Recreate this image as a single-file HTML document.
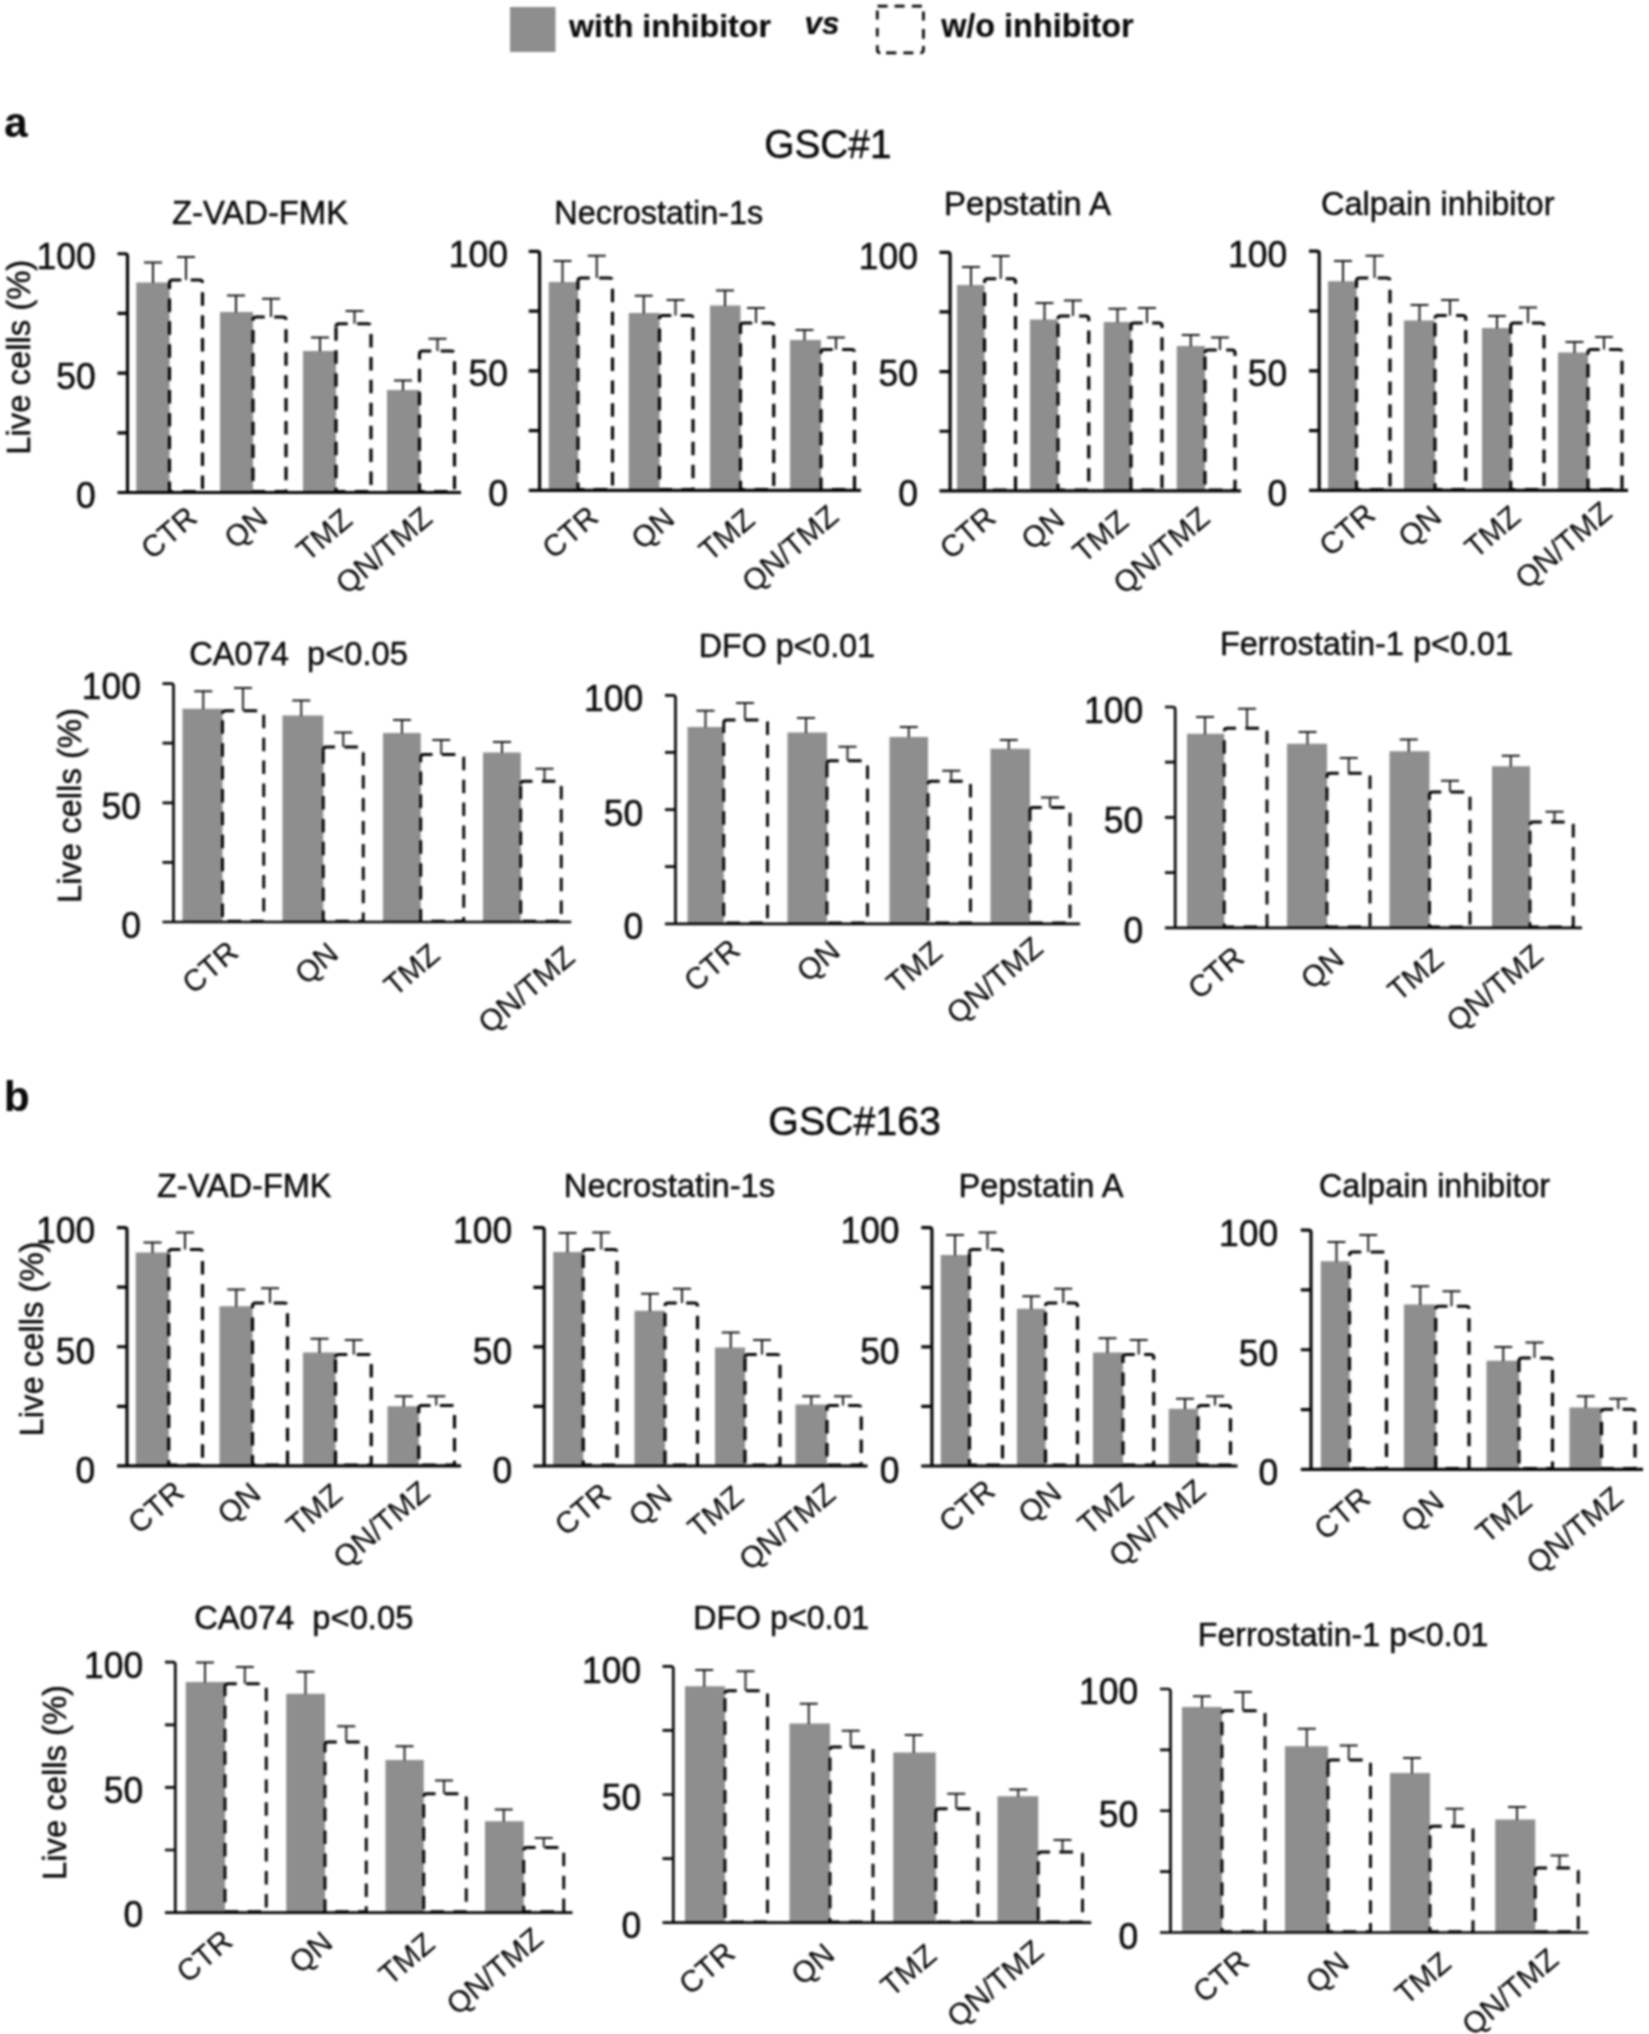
<!DOCTYPE html>
<html lang="en"><head><meta charset="utf-8"><title>Figure</title>
<style>
html,body{margin:0;padding:0;background:#fff;}
body{width:1649px;height:2034px;overflow:hidden;}
svg{display:block;filter:blur(1px);}
text{font-family:"Liberation Sans",Arial,sans-serif;stroke:#0a0a0a;stroke-width:0.45px;}
text.xl{stroke-width:0.12px;}
text[font-weight=bold]{stroke-width:0.2px;}
</style></head><body>
<svg width="1649" height="2034" viewBox="0 0 1649 2034" font-family="'Liberation Sans', Arial, sans-serif" fill="#0a0a0a">
<g id="c1">
<rect x="136.25" y="282.5" width="33.25" height="210" fill="#8e8e8e"/>
<rect x="220" y="312" width="33" height="180.5" fill="#8e8e8e"/>
<rect x="303" y="351" width="33" height="141.5" fill="#8e8e8e"/>
<rect x="387" y="390" width="32.5" height="102.5" fill="#8e8e8e"/>
<path d="M169.5 283 Q169.5 280 172.5 280 H199.5 Q202.5 280 202.5 283 V491.7 H169.5 V283" fill="none" stroke="#050505" stroke-width="3.2" stroke-dasharray="13.5 9.4"/>
<path d="M253 320 Q253 317 256 317 H283 Q286 317 286 320 V491.7 H253 V320" fill="none" stroke="#050505" stroke-width="3.2" stroke-dasharray="13.5 9.4"/>
<path d="M336 326.75 Q336 323.75 339 323.75 H368 Q371 323.75 371 326.75 V491.7 H336 V326.75" fill="none" stroke="#050505" stroke-width="3.2" stroke-dasharray="13.5 9.4"/>
<path d="M419.5 354 Q419.5 351 422.5 351 H451.5 Q454.5 351 454.5 354 V491.7 H419.5 V354" fill="none" stroke="#050505" stroke-width="3.2" stroke-dasharray="13.5 9.4"/>
<path d="M153 283 V262.5 M144 262.5 H162" fill="none" stroke="#1c1c1c" stroke-width="2"/>
<path d="M186 280 V257 M177 257 H195" fill="none" stroke="#1c1c1c" stroke-width="2"/>
<path d="M236 312.5 V295.5 M227 295.5 H245" fill="none" stroke="#1c1c1c" stroke-width="2"/>
<path d="M271 317 V298.75 M262 298.75 H280" fill="none" stroke="#1c1c1c" stroke-width="2"/>
<path d="M320 351.5 V337.5 M311 337.5 H329" fill="none" stroke="#1c1c1c" stroke-width="2"/>
<path d="M354.5 323.75 V311 M345.5 311 H363.5" fill="none" stroke="#1c1c1c" stroke-width="2"/>
<path d="M403 390.5 V380.5 M394 380.5 H412" fill="none" stroke="#1c1c1c" stroke-width="2"/>
<path d="M437.5 351 V338.75 M428.5 338.75 H446.5" fill="none" stroke="#1c1c1c" stroke-width="2"/>
<path d="M117.5 253.75 H125 Q127.5 253.75 127.5 256.25 V494.1 M117.5 492.5 H461 M117.5 432.81 H127.5 M117.5 373.12 H127.5 M117.5 313.44 H127.5" fill="none" stroke="#050505" stroke-width="3.2"/>
<text transform="translate(95.8 269) scale(1 1.05)" text-anchor="end" font-size="35.5">100</text>
<text transform="translate(95.8 389) scale(1 1.05)" text-anchor="end" font-size="35.5">50</text>
<text transform="translate(95.8 508.1) scale(1 1.05)" text-anchor="end" font-size="35.5">0</text>
<text transform="translate(199 520.5) rotate(-40.5)" text-anchor="end" font-size="30" class="xl">CTR</text>
<text transform="translate(269.5 520.75) rotate(-40.5)" text-anchor="end" font-size="30" class="xl">QN</text>
<text transform="translate(354.25 522.5) rotate(-40.5)" text-anchor="end" font-size="30" class="xl">TMZ</text>
<text transform="translate(434.25 520.75) rotate(-40.5)" text-anchor="end" font-size="30" class="xl">QN/TMZ</text>
</g>
<g id="c2">
<rect x="548.75" y="282" width="29.25" height="208.4" fill="#8e8e8e"/>
<rect x="628.75" y="313" width="30.75" height="177.4" fill="#8e8e8e"/>
<rect x="710" y="305.5" width="30.5" height="184.9" fill="#8e8e8e"/>
<rect x="790" y="340" width="31" height="150.4" fill="#8e8e8e"/>
<path d="M578 281 Q578 278 581 278 H609.5 Q612.5 278 612.5 281 V489.6 H578 V281" fill="none" stroke="#050505" stroke-width="3.2" stroke-dasharray="13.5 9.4"/>
<path d="M659.5 318.5 Q659.5 315.5 662.5 315.5 H690 Q693 315.5 693 318.5 V489.6 H659.5 V318.5" fill="none" stroke="#050505" stroke-width="3.2" stroke-dasharray="13.5 9.4"/>
<path d="M740.5 326 Q740.5 323 743.5 323 H770.75 Q773.75 323 773.75 326 V489.6 H740.5 V326" fill="none" stroke="#050505" stroke-width="3.2" stroke-dasharray="13.5 9.4"/>
<path d="M821 352.5 Q821 349.5 824 349.5 H851.5 Q854.5 349.5 854.5 352.5 V489.6 H821 V352.5" fill="none" stroke="#050505" stroke-width="3.2" stroke-dasharray="13.5 9.4"/>
<path d="M562.5 282.5 V261 M553.5 261 H571.5" fill="none" stroke="#1c1c1c" stroke-width="2"/>
<path d="M596.75 278 V255.75 M587.75 255.75 H605.75" fill="none" stroke="#1c1c1c" stroke-width="2"/>
<path d="M643.75 313.5 V295.75 M634.75 295.75 H652.75" fill="none" stroke="#1c1c1c" stroke-width="2"/>
<path d="M675.5 315.5 V300 M666.5 300 H684.5" fill="none" stroke="#1c1c1c" stroke-width="2"/>
<path d="M725 306 V290.5 M716 290.5 H734" fill="none" stroke="#1c1c1c" stroke-width="2"/>
<path d="M756 323 V308 M747 308 H765" fill="none" stroke="#1c1c1c" stroke-width="2"/>
<path d="M804.5 340.5 V330 M795.5 330 H813.5" fill="none" stroke="#1c1c1c" stroke-width="2"/>
<path d="M836 349.5 V337.5 M827 337.5 H845" fill="none" stroke="#1c1c1c" stroke-width="2"/>
<path d="M528.75 251.4 H537.1 Q539.6 251.4 539.6 253.9 V492 M528.75 490.4 H861 M528.75 430.65 H539.6 M528.75 370.9 H539.6 M528.75 311.15 H539.6" fill="none" stroke="#050505" stroke-width="3.2"/>
<text transform="translate(508 266.7) scale(1 1.05)" text-anchor="end" font-size="35.5">100</text>
<text transform="translate(508 386.4) scale(1 1.05)" text-anchor="end" font-size="35.5">50</text>
<text transform="translate(508 506.2) scale(1 1.05)" text-anchor="end" font-size="35.5">0</text>
<text transform="translate(600.25 520) rotate(-40.5)" text-anchor="end" font-size="30" class="xl">CTR</text>
<text transform="translate(676.5 521.5) rotate(-40.5)" text-anchor="end" font-size="30" class="xl">QN</text>
<text transform="translate(756.75 522.5) rotate(-40.5)" text-anchor="end" font-size="30" class="xl">TMZ</text>
<text transform="translate(840.5 519) rotate(-40.5)" text-anchor="end" font-size="30" class="xl">QN/TMZ</text>
</g>
<g id="c3">
<rect x="957" y="285" width="27.5" height="205.9" fill="#8e8e8e"/>
<rect x="1030" y="319.5" width="28" height="171.4" fill="#8e8e8e"/>
<rect x="1103.75" y="322" width="27.25" height="168.9" fill="#8e8e8e"/>
<rect x="1176.75" y="346" width="28.25" height="144.9" fill="#8e8e8e"/>
<path d="M984.5 281.75 Q984.5 278.75 987.5 278.75 H1012.5 Q1015.5 278.75 1015.5 281.75 V490.1 H984.5 V281.75" fill="none" stroke="#050505" stroke-width="3.2" stroke-dasharray="13.5 9.4"/>
<path d="M1058 319 Q1058 316 1061 316 H1085.75 Q1088.75 316 1088.75 319 V490.1 H1058 V319" fill="none" stroke="#050505" stroke-width="3.2" stroke-dasharray="13.5 9.4"/>
<path d="M1131 326 Q1131 323 1134 323 H1159 Q1162 323 1162 326 V490.1 H1131 V326" fill="none" stroke="#050505" stroke-width="3.2" stroke-dasharray="13.5 9.4"/>
<path d="M1205 353 Q1205 350 1208 350 H1232 Q1235 350 1235 353 V490.1 H1205 V353" fill="none" stroke="#050505" stroke-width="3.2" stroke-dasharray="13.5 9.4"/>
<path d="M971 285.5 V267 M962 267 H980" fill="none" stroke="#1c1c1c" stroke-width="2"/>
<path d="M1000.75 278.75 V256 M991.75 256 H1009.75" fill="none" stroke="#1c1c1c" stroke-width="2"/>
<path d="M1044.5 320 V303 M1035.5 303 H1053.5" fill="none" stroke="#1c1c1c" stroke-width="2"/>
<path d="M1073 316 V300.5 M1064 300.5 H1082" fill="none" stroke="#1c1c1c" stroke-width="2"/>
<path d="M1117.5 322.5 V308.75 M1108.5 308.75 H1126.5" fill="none" stroke="#1c1c1c" stroke-width="2"/>
<path d="M1147 323 V308 M1138 308 H1156" fill="none" stroke="#1c1c1c" stroke-width="2"/>
<path d="M1190.75 346.5 V335 M1181.75 335 H1199.75" fill="none" stroke="#1c1c1c" stroke-width="2"/>
<path d="M1220 350 V337.5 M1211 337.5 H1229" fill="none" stroke="#1c1c1c" stroke-width="2"/>
<path d="M939.5 252.3 H947.6 Q950.1 252.3 950.1 254.8 V492.5 M939.5 490.9 H1241 M939.5 431.25 H950.1 M939.5 371.6 H950.1 M939.5 311.95 H950.1" fill="none" stroke="#050505" stroke-width="3.2"/>
<text transform="translate(918 268.7) scale(1 1.05)" text-anchor="end" font-size="35.5">100</text>
<text transform="translate(918 386.4) scale(1 1.05)" text-anchor="end" font-size="35.5">50</text>
<text transform="translate(918 506.2) scale(1 1.05)" text-anchor="end" font-size="35.5">0</text>
<text transform="translate(997.75 520.5) rotate(-40.5)" text-anchor="end" font-size="30" class="xl">CTR</text>
<text transform="translate(1066.5 522) rotate(-40.5)" text-anchor="end" font-size="30" class="xl">QN</text>
<text transform="translate(1130.5 524) rotate(-40.5)" text-anchor="end" font-size="30" class="xl">TMZ</text>
<text transform="translate(1211.75 520.75) rotate(-40.5)" text-anchor="end" font-size="30" class="xl">QN/TMZ</text>
</g>
<g id="c4">
<rect x="1328" y="281.25" width="28.5" height="209.15" fill="#8e8e8e"/>
<rect x="1404" y="320.5" width="31" height="169.9" fill="#8e8e8e"/>
<rect x="1482" y="328" width="28.75" height="162.4" fill="#8e8e8e"/>
<rect x="1558" y="352.5" width="30" height="137.9" fill="#8e8e8e"/>
<path d="M1356.5 281 Q1356.5 278 1359.5 278 H1387 Q1390 278 1390 281 V489.6 H1356.5 V281" fill="none" stroke="#050505" stroke-width="3.2" stroke-dasharray="13.5 9.4"/>
<path d="M1435 318.5 Q1435 315.5 1438 315.5 H1462.75 Q1465.75 315.5 1465.75 318.5 V489.6 H1435 V318.5" fill="none" stroke="#050505" stroke-width="3.2" stroke-dasharray="13.5 9.4"/>
<path d="M1510.75 326 Q1510.75 323 1513.75 323 H1541 Q1544 323 1544 326 V489.6 H1510.75 V326" fill="none" stroke="#050505" stroke-width="3.2" stroke-dasharray="13.5 9.4"/>
<path d="M1588 352.5 Q1588 349.5 1591 349.5 H1619 Q1622 349.5 1622 352.5 V489.6 H1588 V352.5" fill="none" stroke="#050505" stroke-width="3.2" stroke-dasharray="13.5 9.4"/>
<path d="M1343 281.75 V261 M1334 261 H1352" fill="none" stroke="#1c1c1c" stroke-width="2"/>
<path d="M1374.5 278 V255.75 M1365.5 255.75 H1383.5" fill="none" stroke="#1c1c1c" stroke-width="2"/>
<path d="M1419.5 321 V305 M1410.5 305 H1428.5" fill="none" stroke="#1c1c1c" stroke-width="2"/>
<path d="M1450 315.5 V300 M1441 300 H1459" fill="none" stroke="#1c1c1c" stroke-width="2"/>
<path d="M1497 328.5 V316 M1488 316 H1506" fill="none" stroke="#1c1c1c" stroke-width="2"/>
<path d="M1528 323 V307.5 M1519 307.5 H1537" fill="none" stroke="#1c1c1c" stroke-width="2"/>
<path d="M1574.5 353 V342 M1565.5 342 H1583.5" fill="none" stroke="#1c1c1c" stroke-width="2"/>
<path d="M1604 349.5 V337 M1595 337 H1613" fill="none" stroke="#1c1c1c" stroke-width="2"/>
<path d="M1309 251.2 H1316.7 Q1319.2 251.2 1319.2 253.7 V492 M1309 490.4 H1628 M1309 430.6 H1319.2 M1309 370.8 H1319.2 M1309 311 H1319.2" fill="none" stroke="#050505" stroke-width="3.2"/>
<text transform="translate(1287.2 266.7) scale(1 1.05)" text-anchor="end" font-size="35.5">100</text>
<text transform="translate(1287.2 386.4) scale(1 1.05)" text-anchor="end" font-size="35.5">50</text>
<text transform="translate(1287.2 506.2) scale(1 1.05)" text-anchor="end" font-size="35.5">0</text>
<text transform="translate(1377.25 517.5) rotate(-40.5)" text-anchor="end" font-size="30" class="xl">CTR</text>
<text transform="translate(1443.5 519.5) rotate(-40.5)" text-anchor="end" font-size="30" class="xl">QN</text>
<text transform="translate(1522.5 519.5) rotate(-40.5)" text-anchor="end" font-size="30" class="xl">TMZ</text>
<text transform="translate(1613.75 515.5) rotate(-40.5)" text-anchor="end" font-size="30" class="xl">QN/TMZ</text>
</g>
<g id="c5">
<rect x="182.5" y="708.75" width="40" height="213.25" fill="#8e8e8e"/>
<rect x="282.5" y="715.5" width="40.75" height="206.5" fill="#8e8e8e"/>
<rect x="383" y="733" width="37.75" height="189" fill="#8e8e8e"/>
<rect x="483" y="752.5" width="37.75" height="169.5" fill="#8e8e8e"/>
<path d="M222.5 713.75 Q222.5 710.75 225.5 710.75 H260.75 Q263.75 710.75 263.75 713.75 V921.2 H222.5 V713.75" fill="none" stroke="#050505" stroke-width="2.9" stroke-dasharray="13.5 9.4"/>
<path d="M323.25 750 Q323.25 747 326.25 747 H360.25 Q363.25 747 363.25 750 V921.2 H323.25 V750" fill="none" stroke="#050505" stroke-width="2.9" stroke-dasharray="13.5 9.4"/>
<path d="M420.75 757.5 Q420.75 754.5 423.75 754.5 H460.75 Q463.75 754.5 463.75 757.5 V921.2 H420.75 V757.5" fill="none" stroke="#050505" stroke-width="2.9" stroke-dasharray="13.5 9.4"/>
<path d="M520.75 784.25 Q520.75 781.25 523.75 781.25 H558.25 Q561.25 781.25 561.25 784.25 V921.2 H520.75 V784.25" fill="none" stroke="#050505" stroke-width="2.9" stroke-dasharray="13.5 9.4"/>
<path d="M203.25 709.25 V691.25 M194.25 691.25 H212.25" fill="none" stroke="#1c1c1c" stroke-width="1.9"/>
<path d="M243 710.75 V688 M234 688 H252" fill="none" stroke="#1c1c1c" stroke-width="1.9"/>
<path d="M301.25 716 V700.5 M292.25 700.5 H310.25" fill="none" stroke="#1c1c1c" stroke-width="1.9"/>
<path d="M343.25 747 V732.5 M334.25 732.5 H352.25" fill="none" stroke="#1c1c1c" stroke-width="1.9"/>
<path d="M402 733.5 V720 M393 720 H411" fill="none" stroke="#1c1c1c" stroke-width="1.9"/>
<path d="M441.25 754.5 V740 M432.25 740 H450.25" fill="none" stroke="#1c1c1c" stroke-width="1.9"/>
<path d="M502 753 V742 M493 742 H511" fill="none" stroke="#1c1c1c" stroke-width="1.9"/>
<path d="M544.5 781.25 V768.75 M535.5 768.75 H553.5" fill="none" stroke="#1c1c1c" stroke-width="1.9"/>
<path d="M162.5 683.6 H171 Q173.5 683.6 173.5 686.1 V923.35 M162.5 922 H571.25 M162.5 862.4 H173.5 M162.5 802.8 H173.5 M162.5 743.2 H173.5" fill="none" stroke="#050505" stroke-width="2.7"/>
<text transform="translate(141 698.7) scale(1 1.05)" text-anchor="end" font-size="35.5">100</text>
<text transform="translate(141 819.2) scale(1 1.05)" text-anchor="end" font-size="35.5">50</text>
<text transform="translate(141 938.3) scale(1 1.05)" text-anchor="end" font-size="35.5">0</text>
<text transform="translate(240.25 955) rotate(-40.5)" text-anchor="end" font-size="30" class="xl">CTR</text>
<text transform="translate(340.25 956.5) rotate(-40.5)" text-anchor="end" font-size="30" class="xl">QN</text>
<text transform="translate(441.75 957.5) rotate(-40.5)" text-anchor="end" font-size="30" class="xl">TMZ</text>
<text transform="translate(576.75 960) rotate(-40.5)" text-anchor="end" font-size="30" class="xl">QN/TMZ</text>
</g>
<g id="c6">
<rect x="687.5" y="727" width="36.25" height="196.8" fill="#8e8e8e"/>
<rect x="787.5" y="732.5" width="39.5" height="191.3" fill="#8e8e8e"/>
<rect x="889.5" y="737" width="38.5" height="186.8" fill="#8e8e8e"/>
<rect x="990.5" y="748.75" width="39.5" height="175.05" fill="#8e8e8e"/>
<path d="M723.75 723 Q723.75 720 726.75 720 H764.5 Q767.5 720 767.5 723 V923 H723.75 V723" fill="none" stroke="#050505" stroke-width="2.9" stroke-dasharray="13.5 9.4"/>
<path d="M827 763.75 Q827 760.75 830 760.75 H864.5 Q867.5 760.75 867.5 763.75 V923 H827 V763.75" fill="none" stroke="#050505" stroke-width="2.9" stroke-dasharray="13.5 9.4"/>
<path d="M928 784.25 Q928 781.25 931 781.25 H967.5 Q970.5 781.25 970.5 784.25 V923 H928 V784.25" fill="none" stroke="#050505" stroke-width="2.9" stroke-dasharray="13.5 9.4"/>
<path d="M1030 810.5 Q1030 807.5 1033 807.5 H1067 Q1070 807.5 1070 810.5 V923 H1030 V810.5" fill="none" stroke="#050505" stroke-width="2.9" stroke-dasharray="13.5 9.4"/>
<path d="M705.5 727.5 V710.75 M696.5 710.75 H714.5" fill="none" stroke="#1c1c1c" stroke-width="1.9"/>
<path d="M745 720 V703 M736 703 H754" fill="none" stroke="#1c1c1c" stroke-width="1.9"/>
<path d="M806 733 V718 M797 718 H815" fill="none" stroke="#1c1c1c" stroke-width="1.9"/>
<path d="M847.5 760.75 V746.75 M838.5 746.75 H856.5" fill="none" stroke="#1c1c1c" stroke-width="1.9"/>
<path d="M908.75 737.5 V727 M899.75 727 H917.75" fill="none" stroke="#1c1c1c" stroke-width="1.9"/>
<path d="M951.25 781.25 V770.75 M942.25 770.75 H960.25" fill="none" stroke="#1c1c1c" stroke-width="1.9"/>
<path d="M1008.75 749.25 V740 M999.75 740 H1017.75" fill="none" stroke="#1c1c1c" stroke-width="1.9"/>
<path d="M1050 807.5 V797.5 M1041 797.5 H1059" fill="none" stroke="#1c1c1c" stroke-width="1.9"/>
<path d="M665 695.3 H673 Q675.5 695.3 675.5 697.8 V925.15 M665 923.8 H1080 M665 866.67 H675.5 M665 809.55 H675.5 M665 752.42 H675.5" fill="none" stroke="#050505" stroke-width="2.7"/>
<text transform="translate(643.2 710.8) scale(1 1.05)" text-anchor="end" font-size="35.5">100</text>
<text transform="translate(643.2 825.7) scale(1 1.05)" text-anchor="end" font-size="35.5">50</text>
<text transform="translate(643.2 938.6) scale(1 1.05)" text-anchor="end" font-size="35.5">0</text>
<text transform="translate(742 953) rotate(-40.5)" text-anchor="end" font-size="30" class="xl">CTR</text>
<text transform="translate(842 954) rotate(-40.5)" text-anchor="end" font-size="30" class="xl">QN</text>
<text transform="translate(944.25 955) rotate(-40.5)" text-anchor="end" font-size="30" class="xl">TMZ</text>
<text transform="translate(1045 950.75) rotate(-40.5)" text-anchor="end" font-size="30" class="xl">QN/TMZ</text>
</g>
<g id="c7">
<rect x="1187" y="733.75" width="37.25" height="194.05" fill="#8e8e8e"/>
<rect x="1287" y="743.75" width="40" height="184.05" fill="#8e8e8e"/>
<rect x="1389.5" y="751.25" width="40" height="176.55" fill="#8e8e8e"/>
<rect x="1492" y="766.25" width="38" height="161.55" fill="#8e8e8e"/>
<path d="M1224.25 731.25 Q1224.25 728.25 1227.25 728.25 H1264 Q1267 728.25 1267 731.25 V927 H1224.25 V731.25" fill="none" stroke="#050505" stroke-width="2.9" stroke-dasharray="13.5 9.4"/>
<path d="M1327 776.25 Q1327 773.25 1330 773.25 H1367 Q1370 773.25 1370 776.25 V927 H1327 V776.25" fill="none" stroke="#050505" stroke-width="2.9" stroke-dasharray="13.5 9.4"/>
<path d="M1429.5 795 Q1429.5 792 1432.5 792 H1467 Q1470 792 1470 795 V927 H1429.5 V795" fill="none" stroke="#050505" stroke-width="2.9" stroke-dasharray="13.5 9.4"/>
<path d="M1530 825 Q1530 822 1533 822 H1570.25 Q1573.25 822 1573.25 825 V927 H1530 V825" fill="none" stroke="#050505" stroke-width="2.9" stroke-dasharray="13.5 9.4"/>
<path d="M1205 734.25 V717 M1196 717 H1214" fill="none" stroke="#1c1c1c" stroke-width="1.9"/>
<path d="M1247 728.25 V708.75 M1238 708.75 H1256" fill="none" stroke="#1c1c1c" stroke-width="1.9"/>
<path d="M1307.5 744.25 V732 M1298.5 732 H1316.5" fill="none" stroke="#1c1c1c" stroke-width="1.9"/>
<path d="M1348.75 773.25 V758 M1339.75 758 H1357.75" fill="none" stroke="#1c1c1c" stroke-width="1.9"/>
<path d="M1408.75 751.75 V739.5 M1399.75 739.5 H1417.75" fill="none" stroke="#1c1c1c" stroke-width="1.9"/>
<path d="M1450 792 V780.75 M1441 780.75 H1459" fill="none" stroke="#1c1c1c" stroke-width="1.9"/>
<path d="M1510.75 766.75 V755.75 M1501.75 755.75 H1519.75" fill="none" stroke="#1c1c1c" stroke-width="1.9"/>
<path d="M1554.5 822 V811.75 M1545.5 811.75 H1563.5" fill="none" stroke="#1c1c1c" stroke-width="1.9"/>
<path d="M1165 707 H1172.7 Q1175.2 707 1175.2 709.5 V929.15 M1165 927.8 H1582 M1165 872.6 H1175.2 M1165 817.4 H1175.2 M1165 762.2 H1175.2" fill="none" stroke="#050505" stroke-width="2.7"/>
<text transform="translate(1143.2 722.8) scale(1 1.05)" text-anchor="end" font-size="35.5">100</text>
<text transform="translate(1143.2 833) scale(1 1.05)" text-anchor="end" font-size="35.5">50</text>
<text transform="translate(1143.2 943.1) scale(1 1.05)" text-anchor="end" font-size="35.5">0</text>
<text transform="translate(1246 960.5) rotate(-40.5)" text-anchor="end" font-size="30" class="xl">CTR</text>
<text transform="translate(1346 961.5) rotate(-40.5)" text-anchor="end" font-size="30" class="xl">QN</text>
<text transform="translate(1445.5 962.5) rotate(-40.5)" text-anchor="end" font-size="30" class="xl">TMZ</text>
<text transform="translate(1545 958.25) rotate(-40.5)" text-anchor="end" font-size="30" class="xl">QN/TMZ</text>
</g>
<g id="c8">
<rect x="135.75" y="1252.5" width="33" height="213.3" fill="#8e8e8e"/>
<rect x="219.5" y="1306.25" width="33" height="159.55" fill="#8e8e8e"/>
<rect x="303" y="1352.5" width="32.5" height="113.3" fill="#8e8e8e"/>
<rect x="387.5" y="1406.25" width="31.25" height="59.55" fill="#8e8e8e"/>
<path d="M168.75 1252.5 Q168.75 1249.5 171.75 1249.5 H199.5 Q202.5 1249.5 202.5 1252.5 V1465 H168.75 V1252.5" fill="none" stroke="#050505" stroke-width="3.2" stroke-dasharray="13.5 9.4"/>
<path d="M252.5 1306 Q252.5 1303 255.5 1303 H284.5 Q287.5 1303 287.5 1306 V1465 H252.5 V1306" fill="none" stroke="#050505" stroke-width="3.2" stroke-dasharray="13.5 9.4"/>
<path d="M335.5 1357.5 Q335.5 1354.5 338.5 1354.5 H368.25 Q371.25 1354.5 371.25 1357.5 V1465 H335.5 V1357.5" fill="none" stroke="#050505" stroke-width="3.2" stroke-dasharray="13.5 9.4"/>
<path d="M418.75 1408.5 Q418.75 1405.5 421.75 1405.5 H451.5 Q454.5 1405.5 454.5 1408.5 V1465 H418.75 V1408.5" fill="none" stroke="#050505" stroke-width="3.2" stroke-dasharray="13.5 9.4"/>
<path d="M152.5 1253 V1242.5 M143.5 1242.5 H161.5" fill="none" stroke="#1c1c1c" stroke-width="2"/>
<path d="M185 1249.5 V1232.5 M176 1232.5 H194" fill="none" stroke="#1c1c1c" stroke-width="2"/>
<path d="M236.25 1306.75 V1289.5 M227.25 1289.5 H245.25" fill="none" stroke="#1c1c1c" stroke-width="2"/>
<path d="M270 1303 V1288.25 M261 1288.25 H279" fill="none" stroke="#1c1c1c" stroke-width="2"/>
<path d="M319.5 1353 V1338.75 M310.5 1338.75 H328.5" fill="none" stroke="#1c1c1c" stroke-width="2"/>
<path d="M353.75 1354.5 V1340 M344.75 1340 H362.75" fill="none" stroke="#1c1c1c" stroke-width="2"/>
<path d="M403.75 1406.75 V1396.25 M394.75 1396.25 H412.75" fill="none" stroke="#1c1c1c" stroke-width="2"/>
<path d="M436.25 1405.5 V1396.25 M427.25 1396.25 H445.25" fill="none" stroke="#1c1c1c" stroke-width="2"/>
<path d="M117 1227.7 H124.5 Q127 1227.7 127 1230.2 V1467.4 M117 1465.8 H461 M117 1406.28 H127 M117 1346.75 H127 M117 1287.22 H127" fill="none" stroke="#050505" stroke-width="3.2"/>
<text transform="translate(95.2 1243.4) scale(1 1.05)" text-anchor="end" font-size="35.5">100</text>
<text transform="translate(95.2 1363.5) scale(1 1.05)" text-anchor="end" font-size="35.5">50</text>
<text transform="translate(95.2 1483.3) scale(1 1.05)" text-anchor="end" font-size="35.5">0</text>
<text transform="translate(186 1495) rotate(-40.5)" text-anchor="end" font-size="30" class="xl">CTR</text>
<text transform="translate(262.75 1496.5) rotate(-40.5)" text-anchor="end" font-size="30" class="xl">QN</text>
<text transform="translate(344.25 1497.5) rotate(-40.5)" text-anchor="end" font-size="30" class="xl">TMZ</text>
<text transform="translate(431.75 1495) rotate(-40.5)" text-anchor="end" font-size="30" class="xl">QN/TMZ</text>
</g>
<g id="c9">
<rect x="553.25" y="1252" width="30" height="214" fill="#8e8e8e"/>
<rect x="634.5" y="1310.75" width="30.5" height="155.25" fill="#8e8e8e"/>
<rect x="715" y="1347.5" width="30" height="118.5" fill="#8e8e8e"/>
<rect x="795.5" y="1404.5" width="31.5" height="61.5" fill="#8e8e8e"/>
<path d="M583.25 1252.5 Q583.25 1249.5 586.25 1249.5 H614 Q617 1249.5 617 1252.5 V1465.2 H583.25 V1252.5" fill="none" stroke="#050505" stroke-width="3.2" stroke-dasharray="13.5 9.4"/>
<path d="M665 1306 Q665 1303 668 1303 H694.5 Q697.5 1303 697.5 1306 V1465.2 H665 V1306" fill="none" stroke="#050505" stroke-width="3.2" stroke-dasharray="13.5 9.4"/>
<path d="M745 1357.5 Q745 1354.5 748 1354.5 H777 Q780 1354.5 780 1357.5 V1465.2 H745 V1357.5" fill="none" stroke="#050505" stroke-width="3.2" stroke-dasharray="13.5 9.4"/>
<path d="M827 1408.5 Q827 1405.5 830 1405.5 H858.25 Q861.25 1405.5 861.25 1408.5 V1465.2 H827 V1408.5" fill="none" stroke="#050505" stroke-width="3.2" stroke-dasharray="13.5 9.4"/>
<path d="M567.5 1252.5 V1233 M558.5 1233 H576.5" fill="none" stroke="#1c1c1c" stroke-width="2"/>
<path d="M601.25 1249.5 V1232.5 M592.25 1232.5 H610.25" fill="none" stroke="#1c1c1c" stroke-width="2"/>
<path d="M650 1311.25 V1293.75 M641 1293.75 H659" fill="none" stroke="#1c1c1c" stroke-width="2"/>
<path d="M682 1303 V1288.75 M673 1288.75 H691" fill="none" stroke="#1c1c1c" stroke-width="2"/>
<path d="M730.75 1348 V1332.5 M721.75 1332.5 H739.75" fill="none" stroke="#1c1c1c" stroke-width="2"/>
<path d="M762 1354.5 V1340 M753 1340 H771" fill="none" stroke="#1c1c1c" stroke-width="2"/>
<path d="M811.25 1405 V1396.25 M802.25 1396.25 H820.25" fill="none" stroke="#1c1c1c" stroke-width="2"/>
<path d="M843 1405.5 V1396.25 M834 1396.25 H852" fill="none" stroke="#1c1c1c" stroke-width="2"/>
<path d="M533.25 1227.7 H541.7 Q544.2 1227.7 544.2 1230.2 V1467.6 M533.25 1466 H867.5 M533.25 1406.42 H544.2 M533.25 1346.85 H544.2 M533.25 1287.28 H544.2" fill="none" stroke="#050505" stroke-width="3.2"/>
<text transform="translate(512.2 1243.4) scale(1 1.05)" text-anchor="end" font-size="35.5">100</text>
<text transform="translate(512.2 1363.5) scale(1 1.05)" text-anchor="end" font-size="35.5">50</text>
<text transform="translate(512.2 1483) scale(1 1.05)" text-anchor="end" font-size="35.5">0</text>
<text transform="translate(612.75 1497) rotate(-40.5)" text-anchor="end" font-size="30" class="xl">CTR</text>
<text transform="translate(674 1498.25) rotate(-40.5)" text-anchor="end" font-size="30" class="xl">QN</text>
<text transform="translate(745.5 1499.5) rotate(-40.5)" text-anchor="end" font-size="30" class="xl">TMZ</text>
<text transform="translate(837.5 1497) rotate(-40.5)" text-anchor="end" font-size="30" class="xl">QN/TMZ</text>
</g>
<g id="c10">
<rect x="940.75" y="1255" width="28.75" height="211" fill="#8e8e8e"/>
<rect x="1017" y="1308.75" width="28.5" height="157.25" fill="#8e8e8e"/>
<rect x="1093" y="1352.5" width="30" height="113.5" fill="#8e8e8e"/>
<rect x="1168.75" y="1408.75" width="29.25" height="57.25" fill="#8e8e8e"/>
<path d="M969.5 1252.5 Q969.5 1249.5 972.5 1249.5 H999.5 Q1002.5 1249.5 1002.5 1252.5 V1465.2 H969.5 V1252.5" fill="none" stroke="#050505" stroke-width="3.2" stroke-dasharray="13.5 9.4"/>
<path d="M1045.5 1306 Q1045.5 1303 1048.5 1303 H1074.5 Q1077.5 1303 1077.5 1306 V1465.2 H1045.5 V1306" fill="none" stroke="#050505" stroke-width="3.2" stroke-dasharray="13.5 9.4"/>
<path d="M1123 1357.5 Q1123 1354.5 1126 1354.5 H1150.75 Q1153.75 1354.5 1153.75 1357.5 V1465.2 H1123 V1357.5" fill="none" stroke="#050505" stroke-width="3.2" stroke-dasharray="13.5 9.4"/>
<path d="M1198 1408.5 Q1198 1405.5 1201 1405.5 H1227.5 Q1230.5 1405.5 1230.5 1408.5 V1465.2 H1198 V1408.5" fill="none" stroke="#050505" stroke-width="3.2" stroke-dasharray="13.5 9.4"/>
<path d="M955 1255.5 V1235 M946 1235 H964" fill="none" stroke="#1c1c1c" stroke-width="2"/>
<path d="M987.5 1249.5 V1232.5 M978.5 1232.5 H996.5" fill="none" stroke="#1c1c1c" stroke-width="2"/>
<path d="M1031.25 1309.25 V1296.25 M1022.25 1296.25 H1040.25" fill="none" stroke="#1c1c1c" stroke-width="2"/>
<path d="M1063.25 1303 V1288.75 M1054.25 1288.75 H1072.25" fill="none" stroke="#1c1c1c" stroke-width="2"/>
<path d="M1107.5 1353 V1338.25 M1098.5 1338.25 H1116.5" fill="none" stroke="#1c1c1c" stroke-width="2"/>
<path d="M1138.75 1354.5 V1340 M1129.75 1340 H1147.75" fill="none" stroke="#1c1c1c" stroke-width="2"/>
<path d="M1185 1409.25 V1398.75 M1176 1398.75 H1194" fill="none" stroke="#1c1c1c" stroke-width="2"/>
<path d="M1215 1405.5 V1396.25 M1206 1396.25 H1224" fill="none" stroke="#1c1c1c" stroke-width="2"/>
<path d="M921.25 1227.7 H929.4 Q931.9 1227.7 931.9 1230.2 V1467.6 M921.25 1466 H1237.5 M921.25 1406.42 H931.9 M921.25 1346.85 H931.9 M921.25 1287.28 H931.9" fill="none" stroke="#050505" stroke-width="3.2"/>
<text transform="translate(899.6 1243.4) scale(1 1.05)" text-anchor="end" font-size="35.5">100</text>
<text transform="translate(899.6 1363.5) scale(1 1.05)" text-anchor="end" font-size="35.5">50</text>
<text transform="translate(899.6 1483) scale(1 1.05)" text-anchor="end" font-size="35.5">0</text>
<text transform="translate(997 1493.75) rotate(-40.5)" text-anchor="end" font-size="30" class="xl">CTR</text>
<text transform="translate(1063.5 1495.75) rotate(-40.5)" text-anchor="end" font-size="30" class="xl">QN</text>
<text transform="translate(1135.5 1496.5) rotate(-40.5)" text-anchor="end" font-size="30" class="xl">TMZ</text>
<text transform="translate(1207.5 1493.25) rotate(-40.5)" text-anchor="end" font-size="30" class="xl">QN/TMZ</text>
</g>
<g id="c11">
<rect x="1320.75" y="1261.25" width="28.75" height="208.15" fill="#8e8e8e"/>
<rect x="1404" y="1304.5" width="31.75" height="164.9" fill="#8e8e8e"/>
<rect x="1486.5" y="1360.75" width="32.5" height="108.65" fill="#8e8e8e"/>
<rect x="1569.5" y="1407.5" width="32" height="61.9" fill="#8e8e8e"/>
<path d="M1349.5 1255 Q1349.5 1252 1352.5 1252 H1383.5 Q1386.5 1252 1386.5 1255 V1468.6 H1349.5 V1255" fill="none" stroke="#050505" stroke-width="3.2" stroke-dasharray="13.5 9.4"/>
<path d="M1435.75 1309.25 Q1435.75 1306.25 1438.75 1306.25 H1466 Q1469 1306.25 1469 1309.25 V1468.6 H1435.75 V1309.25" fill="none" stroke="#050505" stroke-width="3.2" stroke-dasharray="13.5 9.4"/>
<path d="M1519 1361 Q1519 1358 1522 1358 H1549.5 Q1552.5 1358 1552.5 1361 V1468.6 H1519 V1361" fill="none" stroke="#050505" stroke-width="3.2" stroke-dasharray="13.5 9.4"/>
<path d="M1601.5 1412.25 Q1601.5 1409.25 1604.5 1409.25 H1632 Q1635 1409.25 1635 1412.25 V1468.6 H1601.5 V1412.25" fill="none" stroke="#050505" stroke-width="3.2" stroke-dasharray="13.5 9.4"/>
<path d="M1336.5 1261.75 V1242 M1327.5 1242 H1345.5" fill="none" stroke="#1c1c1c" stroke-width="2"/>
<path d="M1368.25 1252 V1235 M1359.25 1235 H1377.25" fill="none" stroke="#1c1c1c" stroke-width="2"/>
<path d="M1420.25 1305 V1286.25 M1411.25 1286.25 H1429.25" fill="none" stroke="#1c1c1c" stroke-width="2"/>
<path d="M1451.5 1306.25 V1291.25 M1442.5 1291.25 H1460.5" fill="none" stroke="#1c1c1c" stroke-width="2"/>
<path d="M1503.25 1361.25 V1347 M1494.25 1347 H1512.25" fill="none" stroke="#1c1c1c" stroke-width="2"/>
<path d="M1534.5 1358 V1342.5 M1525.5 1342.5 H1543.5" fill="none" stroke="#1c1c1c" stroke-width="2"/>
<path d="M1585.75 1408 V1396.25 M1576.75 1396.25 H1594.75" fill="none" stroke="#1c1c1c" stroke-width="2"/>
<path d="M1618.25 1409.25 V1398.75 M1609.25 1398.75 H1627.25" fill="none" stroke="#1c1c1c" stroke-width="2"/>
<path d="M1300.75 1230.1 H1308.5 Q1311 1230.1 1311 1232.6 V1471 M1300.75 1469.4 H1643 M1300.75 1409.58 H1311 M1300.75 1349.75 H1311 M1300.75 1289.92 H1311" fill="none" stroke="#050505" stroke-width="3.2"/>
<text transform="translate(1278.2 1246.2) scale(1 1.05)" text-anchor="end" font-size="35.5">100</text>
<text transform="translate(1278.2 1365.5) scale(1 1.05)" text-anchor="end" font-size="35.5">50</text>
<text transform="translate(1278.2 1485.3) scale(1 1.05)" text-anchor="end" font-size="35.5">0</text>
<text transform="translate(1372.25 1501.25) rotate(-40.5)" text-anchor="end" font-size="30" class="xl">CTR</text>
<text transform="translate(1446 1504.5) rotate(-40.5)" text-anchor="end" font-size="30" class="xl">QN</text>
<text transform="translate(1533.75 1504.5) rotate(-40.5)" text-anchor="end" font-size="30" class="xl">TMZ</text>
<text transform="translate(1625 1500.5) rotate(-40.5)" text-anchor="end" font-size="30" class="xl">QN/TMZ</text>
</g>
<g id="c12">
<rect x="185.75" y="1682" width="39.25" height="230.6" fill="#8e8e8e"/>
<rect x="286.25" y="1693.75" width="38.75" height="218.85" fill="#8e8e8e"/>
<rect x="385.5" y="1760" width="38.25" height="152.6" fill="#8e8e8e"/>
<rect x="485" y="1821.25" width="38.75" height="91.35" fill="#8e8e8e"/>
<path d="M225 1686.75 Q225 1683.75 228 1683.75 H263.25 Q266.25 1683.75 266.25 1686.75 V1911.8 H225 V1686.75" fill="none" stroke="#050505" stroke-width="2.9" stroke-dasharray="13.5 9.4"/>
<path d="M325 1745 Q325 1742 328 1742 H363.25 Q366.25 1742 366.25 1745 V1911.8 H325 V1745" fill="none" stroke="#050505" stroke-width="2.9" stroke-dasharray="13.5 9.4"/>
<path d="M423.75 1796.75 Q423.75 1793.75 426.75 1793.75 H463.25 Q466.25 1793.75 466.25 1796.75 V1911.8 H423.75 V1796.75" fill="none" stroke="#050505" stroke-width="2.9" stroke-dasharray="13.5 9.4"/>
<path d="M523.75 1850.5 Q523.75 1847.5 526.75 1847.5 H560.75 Q563.75 1847.5 563.75 1850.5 V1911.8 H523.75 V1850.5" fill="none" stroke="#050505" stroke-width="2.9" stroke-dasharray="13.5 9.4"/>
<path d="M205 1682.5 V1662.5 M196 1662.5 H214" fill="none" stroke="#1c1c1c" stroke-width="1.9"/>
<path d="M244.8 1683.75 V1667 M235.8 1667 H253.8" fill="none" stroke="#1c1c1c" stroke-width="1.9"/>
<path d="M305.5 1694.25 V1671.75 M296.5 1671.75 H314.5" fill="none" stroke="#1c1c1c" stroke-width="1.9"/>
<path d="M346.25 1742 V1726.25 M337.25 1726.25 H355.25" fill="none" stroke="#1c1c1c" stroke-width="1.9"/>
<path d="M404.5 1760.5 V1746.25 M395.5 1746.25 H413.5" fill="none" stroke="#1c1c1c" stroke-width="1.9"/>
<path d="M444 1793.75 V1780.5 M435 1780.5 H453" fill="none" stroke="#1c1c1c" stroke-width="1.9"/>
<path d="M503.75 1821.75 V1809.5 M494.75 1809.5 H512.75" fill="none" stroke="#1c1c1c" stroke-width="1.9"/>
<path d="M543.75 1847.5 V1838 M534.75 1838 H552.75" fill="none" stroke="#1c1c1c" stroke-width="1.9"/>
<path d="M165 1662.2 H172.8 Q175.3 1662.2 175.3 1664.7 V1913.95 M165 1912.6 H572.5 M165 1850 H175.3 M165 1787.4 H175.3 M165 1724.8 H175.3" fill="none" stroke="#050505" stroke-width="2.7"/>
<text transform="translate(143.2 1677.9) scale(1 1.05)" text-anchor="end" font-size="35.5">100</text>
<text transform="translate(143.2 1802.8) scale(1 1.05)" text-anchor="end" font-size="35.5">50</text>
<text transform="translate(143.2 1926.7) scale(1 1.05)" text-anchor="end" font-size="35.5">0</text>
<text transform="translate(234.5 1944) rotate(-40.5)" text-anchor="end" font-size="30" class="xl">CTR</text>
<text transform="translate(334.5 1945.5) rotate(-40.5)" text-anchor="end" font-size="30" class="xl">QN</text>
<text transform="translate(436.75 1946.5) rotate(-40.5)" text-anchor="end" font-size="30" class="xl">TMZ</text>
<text transform="translate(545 1941.5) rotate(-40.5)" text-anchor="end" font-size="30" class="xl">QN/TMZ</text>
</g>
<g id="c13">
<rect x="685" y="1686.25" width="40" height="236.45" fill="#8e8e8e"/>
<rect x="789.5" y="1723.5" width="40.5" height="199.2" fill="#8e8e8e"/>
<rect x="893.25" y="1752.5" width="42.5" height="170.2" fill="#8e8e8e"/>
<rect x="997.5" y="1796.25" width="40.75" height="126.45" fill="#8e8e8e"/>
<path d="M725 1693.75 Q725 1690.75 728 1690.75 H764.5 Q767.5 1690.75 767.5 1693.75 V1921.9 H725 V1693.75" fill="none" stroke="#050505" stroke-width="2.9" stroke-dasharray="13.5 9.4"/>
<path d="M830 1750 Q830 1747 833 1747 H870 Q873 1747 873 1750 V1921.9 H830 V1750" fill="none" stroke="#050505" stroke-width="2.9" stroke-dasharray="13.5 9.4"/>
<path d="M935.75 1811.75 Q935.75 1808.75 938.75 1808.75 H975 Q978 1808.75 978 1811.75 V1921.9 H935.75 V1811.75" fill="none" stroke="#050505" stroke-width="2.9" stroke-dasharray="13.5 9.4"/>
<path d="M1038.25 1855 Q1038.25 1852 1041.25 1852 H1079.5 Q1082.5 1852 1082.5 1855 V1921.9 H1038.25 V1855" fill="none" stroke="#050505" stroke-width="2.9" stroke-dasharray="13.5 9.4"/>
<path d="M704.25 1686.75 V1670 M695.25 1670 H713.25" fill="none" stroke="#1c1c1c" stroke-width="1.9"/>
<path d="M745.5 1690.75 V1671.25 M736.5 1671.25 H754.5" fill="none" stroke="#1c1c1c" stroke-width="1.9"/>
<path d="M808.75 1724 V1703.75 M799.75 1703.75 H817.75" fill="none" stroke="#1c1c1c" stroke-width="1.9"/>
<path d="M850.75 1747 V1730.75 M841.75 1730.75 H859.75" fill="none" stroke="#1c1c1c" stroke-width="1.9"/>
<path d="M913.75 1753 V1735 M904.75 1735 H922.75" fill="none" stroke="#1c1c1c" stroke-width="1.9"/>
<path d="M956.25 1808.75 V1793.75 M947.25 1793.75 H965.25" fill="none" stroke="#1c1c1c" stroke-width="1.9"/>
<path d="M1018.25 1796.75 V1789.5 M1009.25 1789.5 H1027.25" fill="none" stroke="#1c1c1c" stroke-width="1.9"/>
<path d="M1062.5 1852 V1840 M1053.5 1840 H1071.5" fill="none" stroke="#1c1c1c" stroke-width="1.9"/>
<path d="M662.5 1666.3 H670.8 Q673.3 1666.3 673.3 1668.8 V1924.05 M662.5 1922.7 H1091.25 M662.5 1858.6 H673.3 M662.5 1794.5 H673.3 M662.5 1730.4 H673.3" fill="none" stroke="#050505" stroke-width="2.7"/>
<text transform="translate(641.2 1682.5) scale(1 1.05)" text-anchor="end" font-size="35.5">100</text>
<text transform="translate(641.2 1809.9) scale(1 1.05)" text-anchor="end" font-size="35.5">50</text>
<text transform="translate(641.2 1937.6) scale(1 1.05)" text-anchor="end" font-size="35.5">0</text>
<text transform="translate(737 1956) rotate(-40.5)" text-anchor="end" font-size="30" class="xl">CTR</text>
<text transform="translate(836.5 1957.25) rotate(-40.5)" text-anchor="end" font-size="30" class="xl">QN</text>
<text transform="translate(938.5 1958) rotate(-40.5)" text-anchor="end" font-size="30" class="xl">TMZ</text>
<text transform="translate(1045.5 1954) rotate(-40.5)" text-anchor="end" font-size="30" class="xl">QN/TMZ</text>
</g>
<g id="c14">
<rect x="1182" y="1707" width="40" height="225.5" fill="#8e8e8e"/>
<rect x="1285" y="1746.25" width="43" height="186.25" fill="#8e8e8e"/>
<rect x="1390" y="1773" width="40" height="159.5" fill="#8e8e8e"/>
<rect x="1495.25" y="1819.5" width="40" height="113" fill="#8e8e8e"/>
<path d="M1222 1713.75 Q1222 1710.75 1225 1710.75 H1262 Q1265 1710.75 1265 1713.75 V1931.7 H1222 V1713.75" fill="none" stroke="#050505" stroke-width="2.9" stroke-dasharray="13.5 9.4"/>
<path d="M1328 1763 Q1328 1760 1331 1760 H1367.5 Q1370.5 1760 1370.5 1763 V1931.7 H1328 V1763" fill="none" stroke="#050505" stroke-width="2.9" stroke-dasharray="13.5 9.4"/>
<path d="M1430 1829.25 Q1430 1826.25 1433 1826.25 H1470 Q1473 1826.25 1473 1829.25 V1931.7 H1430 V1829.25" fill="none" stroke="#050505" stroke-width="2.9" stroke-dasharray="13.5 9.4"/>
<path d="M1535.25 1871 Q1535.25 1868 1538.25 1868 H1575.25 Q1578.25 1868 1578.25 1871 V1931.7 H1535.25 V1871" fill="none" stroke="#050505" stroke-width="2.9" stroke-dasharray="13.5 9.4"/>
<path d="M1202 1707.5 V1696.25 M1193 1696.25 H1211" fill="none" stroke="#1c1c1c" stroke-width="1.9"/>
<path d="M1243 1710.75 V1692 M1234 1692 H1252" fill="none" stroke="#1c1c1c" stroke-width="1.9"/>
<path d="M1306.75 1746.75 V1728.75 M1297.75 1728.75 H1315.75" fill="none" stroke="#1c1c1c" stroke-width="1.9"/>
<path d="M1348.75 1760 V1745.5 M1339.75 1745.5 H1357.75" fill="none" stroke="#1c1c1c" stroke-width="1.9"/>
<path d="M1412 1773.5 V1758 M1403 1758 H1421" fill="none" stroke="#1c1c1c" stroke-width="1.9"/>
<path d="M1454.5 1826.25 V1808.75 M1445.5 1808.75 H1463.5" fill="none" stroke="#1c1c1c" stroke-width="1.9"/>
<path d="M1517 1820 V1807 M1508 1807 H1526" fill="none" stroke="#1c1c1c" stroke-width="1.9"/>
<path d="M1559.5 1868 V1855.5 M1550.5 1855.5 H1568.5" fill="none" stroke="#1c1c1c" stroke-width="1.9"/>
<path d="M1160 1689 H1168 Q1170.5 1689 1170.5 1691.5 V1933.85 M1160 1932.5 H1588.25 M1160 1871.62 H1170.5 M1160 1810.75 H1170.5 M1160 1749.88 H1170.5" fill="none" stroke="#050505" stroke-width="2.7"/>
<text transform="translate(1138.2 1703.9) scale(1 1.05)" text-anchor="end" font-size="35.5">100</text>
<text transform="translate(1138.2 1827.1) scale(1 1.05)" text-anchor="end" font-size="35.5">50</text>
<text transform="translate(1138.2 1948.9) scale(1 1.05)" text-anchor="end" font-size="35.5">0</text>
<text transform="translate(1251 1964) rotate(-40.5)" text-anchor="end" font-size="30" class="xl">CTR</text>
<text transform="translate(1351 1965.5) rotate(-40.5)" text-anchor="end" font-size="30" class="xl">QN</text>
<text transform="translate(1453 1966) rotate(-40.5)" text-anchor="end" font-size="30" class="xl">TMZ</text>
<text transform="translate(1560.5 1962.25) rotate(-40.5)" text-anchor="end" font-size="30" class="xl">QN/TMZ</text>
</g>
<text transform="translate(260 223.8) scale(1 1.03)" text-anchor="middle" font-size="32.8">Z-VAD-FMK</text>
<text transform="translate(658.75 223.8) scale(1 1.03)" text-anchor="middle" font-size="32.41">Necrostatin-1s</text>
<text transform="translate(1027.5 214.8) scale(1 1.03)" text-anchor="middle" font-size="33.0">Pepstatin A</text>
<text transform="translate(1437.75 214.8) scale(1 1.03)" text-anchor="middle" font-size="32.59">Calpain inhibitor</text>
<text transform="translate(298.5 664.8) scale(1 1.03)" text-anchor="middle" font-size="32.65">CA074  p&lt;0.05</text>
<text transform="translate(786.88 656.8) scale(1 1.03)" text-anchor="middle" font-size="32.2">DFO p&lt;0.01</text>
<text transform="translate(1366.5 654.8) scale(1 1.03)" text-anchor="middle" font-size="32.46">Ferrostatin-1 p&lt;0.01</text>
<text transform="translate(244.25 1197.3) scale(1 1.03)" text-anchor="middle" font-size="32.52">Z-VAD-FMK</text>
<text transform="translate(669.5 1197.3) scale(1 1.03)" text-anchor="middle" font-size="32.8">Necrostatin-1s</text>
<text transform="translate(1041 1197.3) scale(1 1.03)" text-anchor="middle" font-size="32.6">Pepstatin A</text>
<text transform="translate(1434.5 1197.3) scale(1 1.03)" text-anchor="middle" font-size="32.24">Calpain inhibitor</text>
<text transform="translate(303.75 1628.8) scale(1 1.03)" text-anchor="middle" font-size="32.72">CA074  p&lt;0.05</text>
<text transform="translate(781.25 1628.55) scale(1 1.03)" text-anchor="middle" font-size="32.15">DFO p&lt;0.01</text>
<text transform="translate(1343.12 1646.05) scale(1 1.03)" text-anchor="middle" font-size="32.21">Ferrostatin-1 p&lt;0.01</text>
<text transform="translate(30.4 357.2) rotate(-90) scale(1 1.03)" text-anchor="middle" font-size="32.8">Live cells (%)</text>
<text transform="translate(81.25 805.6) rotate(-90) scale(1 1.03)" text-anchor="middle" font-size="32.8">Live cells (%)</text>
<text transform="translate(42.8 1339) rotate(-90) scale(1 1.03)" text-anchor="middle" font-size="32.8">Live cells (%)</text>
<text transform="translate(66.25 1782.5) rotate(-90) scale(1 1.03)" text-anchor="middle" font-size="32.8">Live cells (%)</text>
<text transform="translate(827.9 157.8) scale(1 1.04)" text-anchor="middle" font-size="38.8">GSC#1</text>
<text transform="translate(854.6 1134.9) scale(1 1.04)" text-anchor="middle" font-size="39.3">GSC#163</text>
<text transform="translate(4.3 137.4) scale(1 1.025)" font-size="42" font-weight="bold">a</text>
<text x="3.9" y="1111.2" font-size="42" font-weight="bold">b</text>
<rect x="510" y="7" width="45.5" height="45" fill="#8e8e8e"/>
<text x="670" y="37" text-anchor="middle" font-size="32.2" font-weight="bold">with inhibitor</text>
<text x="822" y="34" text-anchor="middle" font-size="31.5" font-weight="bold" font-style="italic">vs</text>
<path d="M877.6 6.1H887.6M894.6 6.1H904.6M911.9 6.1H921.9 M923.4 11.5V20.6M923.4 29.1V38.8M923.4 46.1V50Q923.4 52.8 920.4 52.8 M886.1 52.8H896.4M903.4 52.8H913.4 M877.3 10.6V19.4M877.3 27.9V36.4M877.3 45.2V50Q877.3 52.8 880.3 52.8" fill="none" stroke="#050505" stroke-width="2.7"/>
<text x="1037.4" y="37" text-anchor="middle" font-size="32.4" font-weight="bold">w/o inhibitor</text>
</svg>
</body></html>
